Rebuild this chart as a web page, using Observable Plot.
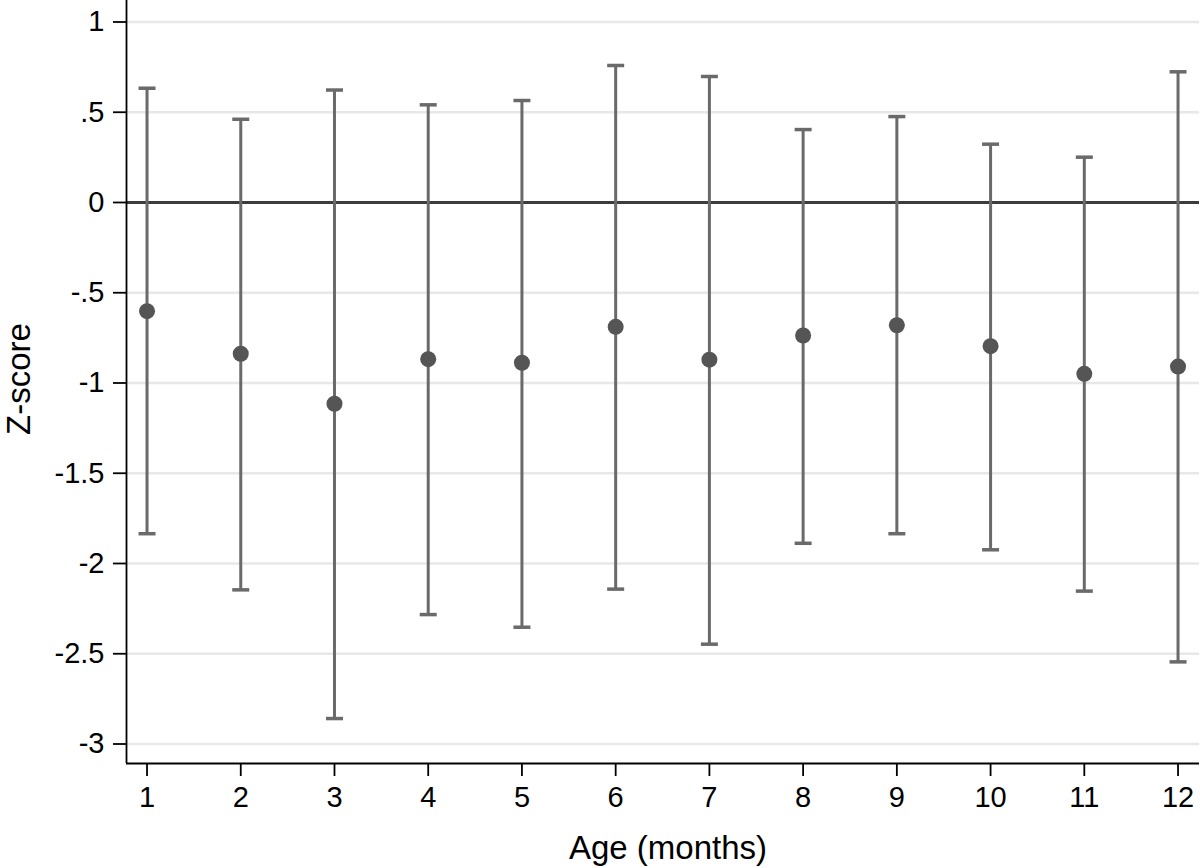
<!DOCTYPE html>
<html>
<head>
<meta charset="utf-8">
<script src="https://cdn.jsdelivr.net/npm/d3@7"></script>
<script src="https://cdn.jsdelivr.net/npm/@observablehq/plot@0.6"></script>
<style>
  html, body { margin: 0; padding: 0; background: #fff; }
  #chart svg { display: block; }
</style>
</head>
<body>
<div id="chart"></div>
<script>
// ---- data ----
const months = [1, 2, 3, 4, 5, 6, 7, 8, 9, 10, 11, 12];
const means  = [-0.602, -0.838, -1.115, -0.868, -0.888, -0.689, -0.871, -0.737, -0.680, -0.796, -0.949, -0.909];
const upper  = [0.633, 0.461, 0.623, 0.541, 0.565, 0.759, 0.698, 0.404, 0.476, 0.323, 0.251, 0.724];
const lower  = [-1.835, -2.146, -2.859, -2.283, -2.353, -2.142, -2.447, -1.888, -1.835, -1.924, -2.153, -2.545];
const xTicks = [1, 2, 3, 4, 5, 6, 7, 8, 9, 10, 11, 12];
const yTicks = [1, 0.5, 0, -0.5, -1, -1.5, -2, -2.5, -3];
const yTickLabels = ["1", ".5", "0", "-.5", "-1", "-1.5", "-2", "-2.5", "-3"];
const xLabel = "Age (months)";
const yLabel = "Z-score";
const xDomain = [0.781, 12.229];
const yDomain = [-3.108, 1.119];

const data = months.map((m, i) => ({month: m, mean: means[i], lo: lower[i], hi: upper[i]}));

// horizontal cap symbol for the error bars
const cap = {
  draw(ctx, size) {
    const w = Math.sqrt(size / Math.PI);
    ctx.moveTo(-w, 0);
    ctx.lineTo(w, 0);
  }
};

const barColor = "#6a6a6a";

const chart = Plot.plot({
  width: 1200,
  height: 868,
  marginLeft: 126,
  marginRight: 1,
  marginTop: 0,
  marginBottom: 105,
  style: {
    fontFamily: "'Liberation Sans', Arial, Helvetica, sans-serif",
    fontSize: "29px",
    color: "#000",
    background: "#fff"
  },
  x: {domain: xDomain},
  y: {domain: yDomain},
  marks: [
    Plot.gridY(yTicks, {stroke: "#e8e8e8", strokeOpacity: 1, strokeWidth: 2.5}),
    Plot.ruleY([0], {stroke: "#3c3c3c", strokeWidth: 3}),
    Plot.ruleX(data, {x: "month", y1: "lo", y2: "hi", stroke: barColor, strokeWidth: 3}),
    Plot.dot(data, {x: "month", y: "hi", symbol: cap, r: 8.5, fill: "none", stroke: barColor, strokeWidth: 3.5}),
    Plot.dot(data, {x: "month", y: "lo", symbol: cap, r: 8.5, fill: "none", stroke: barColor, strokeWidth: 3.5}),
    Plot.dot(data, {x: "month", y: "mean", r: 8, fill: "#555555", stroke: "none"}),
    Plot.ruleX([xDomain[0]], {stroke: "#000", strokeWidth: 1.8}),
    Plot.ruleY([yDomain[0]], {stroke: "#000", strokeWidth: 1.8}),
    Plot.axisX(xTicks, {tickSize: 13, tickPadding: 10, fontSize: 29, label: null, strokeWidth: 1.8, tickFormat: d => String(d)}),
    Plot.axisY(yTicks, {tickSize: 13, tickPadding: 9, fontSize: 29, label: null, strokeWidth: 1.8,
      tickFormat: d => yTickLabels[yTicks.indexOf(d)]}),
    Plot.text([yLabel], {frameAnchor: "left", dx: -107, dy: -3, rotate: -90, fontSize: 33,
      textAnchor: "middle", lineAnchor: "middle", text: d => d}),
    Plot.text([xLabel], {frameAnchor: "bottom", dy: 85, dx: 5, fontSize: 33,
      textAnchor: "middle", lineAnchor: "middle", text: d => d})
  ]
});

document.getElementById("chart").appendChild(chart);
</script>
</body>
</html>
